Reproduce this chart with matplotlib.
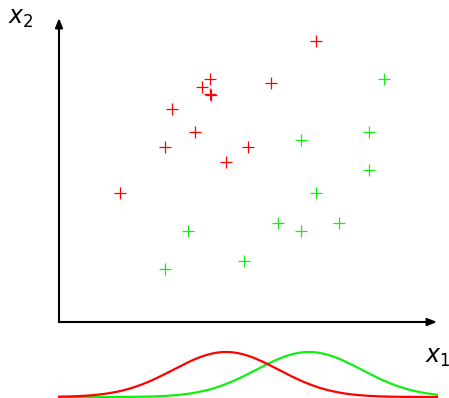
import numpy as np
import matplotlib
matplotlib.use('Agg')
import matplotlib.pyplot as plt

# DATOS (unidades relativas al origen de los ejes)
red_x1 = [257, 151, 143, 151, 152, 212, 113, 136, 106, 189, 167, 61]
red_x2 = [281, 243, 235, 228, 227, 239, 213, 190, 175, 175, 160, 129]
green_x1 = [325, 310, 242, 310, 257, 129, 219, 242, 280, 106, 185]
green_x2 = [243, 190, 182, 152, 129, 91, 99, 91, 99, 53, 61]

# curvas gaussianas debajo del eje x1
red_mu, green_mu, sigma = 167, 250, 52.6
base, amp = -75, 45

fig = plt.figure(figsize=(4.49, 3.98), dpi=100)
ax = fig.add_axes([0, 0, 1, 1])
ax.set_xlim(-59, 390)
ax.set_ylim(-76, 322)
ax.axis('off')

ax.plot(red_x1, red_x2, '+', color='#ff0000', ms=9, mew=0.9)
ax.plot(green_x1, green_x2, '+', color='#11ee11', ms=9, mew=0.9)

xs = np.linspace(0, 378, 400)
ax.plot(xs, base + amp*np.exp(-(xs-green_mu)**2/(2*sigma**2)), color='#11ee11', lw=1.6)
ax.plot(xs, base + amp*np.exp(-(xs-red_mu)**2/(2*sigma**2)), color='#ff0000', lw=1.6)

#EJES CON FLECHAS
arr = dict(arrowstyle='-|>,head_length=0.55,head_width=0.22', color='black', lw=1.5,
           shrinkA=0, shrinkB=0)
ax.annotate('', xy=(0, 304), xytext=(0, 0), arrowprops=arr)
ax.annotate('', xy=(378, 0), xytext=(0, 0), arrowprops=arr)

ax.text(-51, 304, r'$x_2$', fontsize=17, va='center', ha='left')
ax.text(366, -35, r'$x_1$', fontsize=17, va='center', ha='left')

fig.savefig('out.png', dpi=100)
